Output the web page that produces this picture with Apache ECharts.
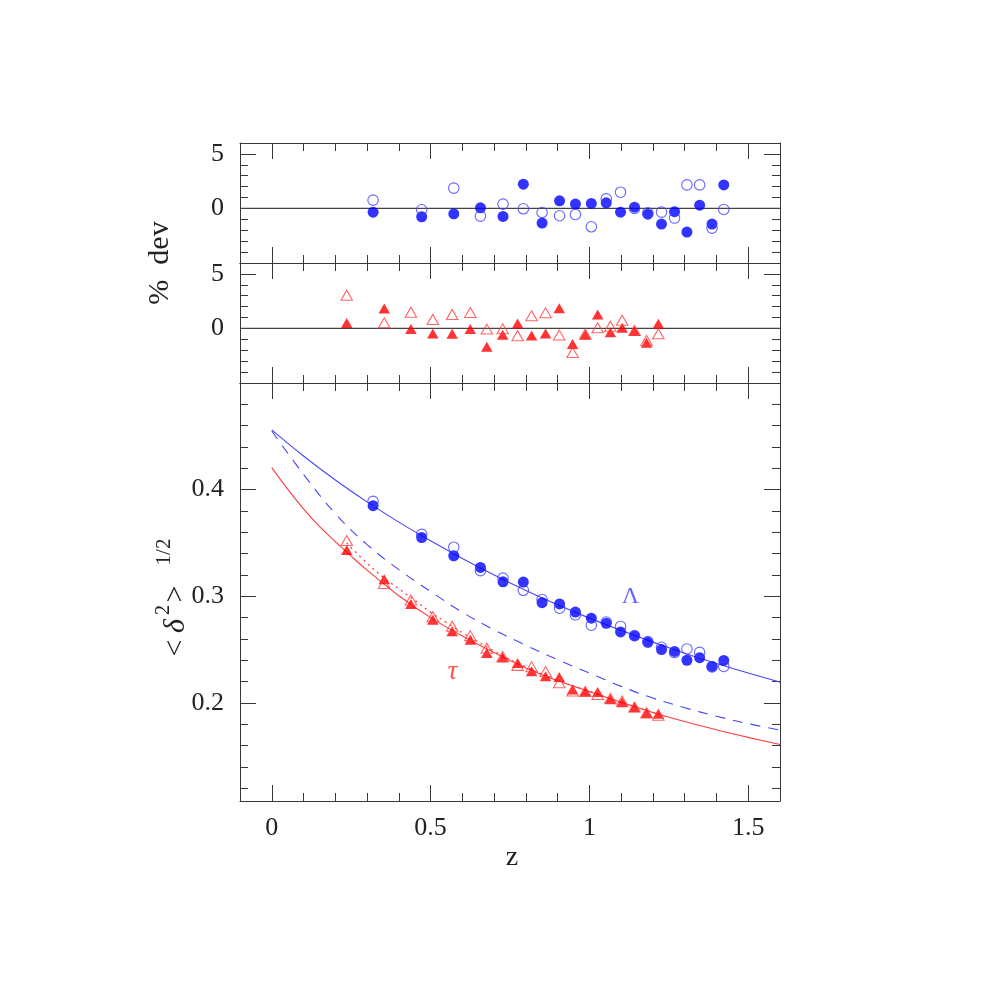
<!DOCTYPE html>
<html><head><meta charset="utf-8">
<script src="https://cdn.jsdelivr.net/npm/echarts@6/dist/echarts.min.js"></script>
<style>html,body{margin:0;padding:0;background:#fff}#c{width:981px;height:981px}</style>
</head><body><div id="c"></div>
<script>
// ---------------- data ----------------
const lamZ = [0.319,0.472,0.573,0.657,0.728,0.792,0.851,0.906,0.956,1.006,1.053,1.098,1.142,1.184,1.227,1.268,1.307,1.347,1.386,1.423];
const lamFilledDev = [-0.34,-0.76,-0.49,0.06,-0.73,2.23,-1.34,0.70,0.40,0.46,0.52,-0.34,0.12,-0.52,-1.43,-0.30,-2.16,0.30,-1.43,2.16];
const lamOpenDev = [0.76,-0.12,1.86,-0.70,0.40,-0.03,-0.37,-0.67,-0.55,-1.68,0.88,1.49,0.0,-0.4,-0.34,-0.88,2.16,2.16,-1.80,-0.09];
const lamFilled = [0.385,0.355,0.338,0.327,0.3135,0.3133,0.294,0.2928,0.2852,0.2795,0.2746,0.2666,0.2628,0.2568,0.2500,0.2483,0.2400,0.2424,0.2342,0.2398];
const lamOpen = [0.389,0.358,0.346,0.324,0.317,0.3056,0.2969,0.2888,0.2826,0.2728,0.2758,0.2717,0.2632,0.2575,0.2522,0.2472,0.2506,0.2474,0.2338,0.2342];

const tauZ = [0.236,0.354,0.438,0.507,0.568,0.625,0.677,0.727,0.774,0.818,0.862,0.905,0.947,0.987,1.026,1.066,1.103,1.142,1.180,1.217];
const tauFilledDev = [0.49,1.83,-0.06,-0.46,-0.49,-0.06,-1.68,-0.58,0.46,-0.64,-0.46,1.86,-1.43,-0.58,1.28,-0.34,0.06,-0.24,-1.31,0.43];
const tauOpenDev = [3.05,0.52,1.49,0.82,1.28,1.46,-0.06,-0.03,-0.67,1.16,1.43,-0.61,-2.20,-0.50,0.06,0.21,0.76,-0.18,-1.10,-0.49];
const tauFilled = [0.3435,0.3160,0.2928,0.2779,0.2671,0.2593,0.2468,0.2425,0.2375,0.2296,0.2250,0.2244,0.2126,0.2107,0.2103,0.2035,0.2006,0.1960,0.1904,0.1898];
const tauOpen = [0.3522,0.3120,0.2966,0.2808,0.2718,0.2631,0.2513,0.2435,0.2352,0.2340,0.2294,0.2188,0.2112,0.2108,0.2078,0.2043,0.2018,0.1961,0.1908,0.1885];

const fitZ = [0,0.1,0.2,0.3,0.4,0.5,0.6,0.7,0.8,0.9,1.0,1.1,1.2,1.3,1.4,1.5,1.6];
const lamFit = [0.456,0.4315,0.409,0.3885,0.3695,0.352,0.3355,0.32,0.3055,0.292,0.2795,0.268,0.257,0.2465,0.237,0.228,0.2195];
const lamLinear = [0.455,0.4143,0.3775,0.3485,0.325,0.3045,0.285,0.2685,0.254,0.2405,0.228,0.2155,0.2045,0.1955,0.1875,0.1805,0.1745];

const tauFitZ = [0,0.05,0.1,0.15,0.2,0.25,0.3,0.4,0.5,0.6,0.7,0.8,0.9,1.0,1.1,1.2,1.3,1.4,1.5,1.6];
const tauFit = [0.4207,0.4005,0.382,0.3655,0.3513,0.3376,0.3245,0.3005,0.28,0.2628,0.2472,0.2328,0.2208,0.2106,0.2005,0.191,0.1825,0.1748,0.1677,0.161];

const tauDotZ = [0.236,0.3,0.35,0.4,0.45,0.5,0.55,0.6,0.7,0.8,0.9,1.0,1.1,1.22];
const tauDot = [0.350,0.331,0.318,0.307,0.2962,0.285,0.2754,0.2658,0.2487,0.2336,0.2212,0.2108,0.2006,0.1893];

const zeroLineZ = [-0.1,1.6];
const xMajorTicks = [0,0.5,1,1.5];
const devMajorTicks = [0,5];
const sigmaMajorTicks = [0.2,0.3,0.4];
const sigmaMinorTicks = [0.12,0.14,0.16,0.18,0.2,0.22,0.24,0.26,0.28,0.3,0.32,0.34,0.36,0.38,0.4,0.42,0.44,0.46,0.48];
const lambdaTag = [1.129, 0.2992];
const tauTag = [0.569, 0.2294];

// ---------------- layout ----------------
const FONT = 'Liberation Serif';
const frameColor = '#383838';
const grids = [
  {left:240, top:143, width:540, height:120},
  {left:240, top:263, width:540, height:120},
  {left:240, top:383, width:540, height:418}
];
const yRanges = [[-5,6],[-5,6],[0.108,0.5]];
const labelStyle = {fontFamily:FONT, fontSize:26, color:'#222'};

const xAxis = [], yAxis = [];
grids.forEach((g, gi) => {
  ['bottom','top'].forEach(pos => {
    const base = {gridIndex:gi, type:'value', min:-0.1, max:1.6, position:pos, splitLine:{show:false}};
    xAxis.push(Object.assign({}, base, {
      interval:0.1,
      axisLine:{show:true, onZero:false, lineStyle:{color:frameColor, width:1}},
      axisTick:{show:true, inside:true, length:8, lineStyle:{color:frameColor, width:1}},
      axisLabel:{show:false}
    }));
    xAxis.push(Object.assign({}, base, {
      axisLine:{show:false, onZero:false},
      axisTick:{show:true, inside:true, length:16, customValues:xMajorTicks, lineStyle:{color:frameColor, width:1}},
      axisLabel:(gi===2 && pos==='bottom') ? Object.assign({show:true, margin:14, customValues:xMajorTicks}, labelStyle) : {show:false}
    }));
  });
  ['left','right'].forEach(pos => {
    const r = yRanges[gi];
    const base = {gridIndex:gi, type:'value', min:r[0], max:r[1], position:pos, splitLine:{show:false}};
    const minor = gi===2 ? {customValues:sigmaMinorTicks} : {};
    const major = gi===2 ? sigmaMajorTicks : devMajorTicks;
    yAxis.push(Object.assign({}, base, gi===2 ? {} : {interval:1}, {
      axisLine:{show:true, onZero:false, lineStyle:{color:frameColor, width:1}},
      axisTick:Object.assign({show:true, inside:true, length:8, lineStyle:{color:frameColor, width:1}}, minor),
      axisLabel:{show:false}
    }));
    yAxis.push(Object.assign({}, base, {
      axisLine:{show:false, onZero:false},
      axisTick:{show:true, inside:true, length:16, customValues:major, lineStyle:{color:frameColor, width:1}},
      axisLabel:(pos==='left') ? Object.assign({show:true, margin:16, customValues:major}, labelStyle) : {show:false}
    }));
  });
});

const pair = (xs, ys) => xs.map((x, i) => [x, ys[i]]);
const ax = gi => ({xAxisIndex:gi*4, yAxisIndex:gi*4});

const filledCircle = {symbol:'circle', symbolSize:11, itemStyle:{color:'#0000ff'}, z:4};
const openCircle = {symbol:'circle', symbolSize:10.5, itemStyle:{color:'rgba(255,255,255,0)', borderColor:'#4040ff', borderWidth:1.1}, z:5};
const filledTri = {symbol:'triangle', symbolSize:[11.5,10], itemStyle:{color:'#ff0000'}, z:4};
const openTri = {symbol:'triangle', symbolSize:[11.5,10], itemStyle:{color:'rgba(255,255,255,0)', borderColor:'#ff4040', borderWidth:1.1}, z:5};

const series = [
  Object.assign({type:'line', data:pair(zeroLineZ,[0,0]), showSymbol:false, lineStyle:{color:'#444', width:1.3}, z:2}, ax(0)),
  Object.assign({type:'scatter', data:pair(lamZ, lamFilledDev)}, filledCircle, ax(0)),
  Object.assign({type:'scatter', data:pair(lamZ, lamOpenDev)}, openCircle, ax(0)),
  Object.assign({type:'line', data:pair(zeroLineZ,[0,0]), showSymbol:false, lineStyle:{color:'#444', width:1.3}, z:2}, ax(1)),
  Object.assign({type:'scatter', data:pair(tauZ, tauFilledDev)}, filledTri, ax(1)),
  Object.assign({type:'scatter', data:pair(tauZ, tauOpenDev)}, openTri, ax(1)),
  Object.assign({type:'line', data:pair(fitZ, lamFit), smooth:0.4, showSymbol:false, lineStyle:{color:'#4646ff', width:1.1}, z:2}, ax(2)),
  Object.assign({type:'line', data:pair(fitZ, lamLinear), smooth:0.4, showSymbol:false, lineStyle:{color:'#4646ff', width:1.1, type:[10,8]}, z:2}, ax(2)),
  Object.assign({type:'line', data:pair(tauFitZ, tauFit), smooth:0.4, showSymbol:false, lineStyle:{color:'#ff3c3c', width:1.1}, z:2}, ax(2)),
  Object.assign({type:'line', data:pair(tauDotZ, tauDot), smooth:0.4, showSymbol:false, lineStyle:{color:'#ff3c3c', width:1.3, type:[2,4]}, z:2}, ax(2)),
  Object.assign({type:'scatter', data:pair(lamZ, lamFilled)}, filledCircle, ax(2)),
  Object.assign({type:'scatter', data:pair(lamZ, lamOpen)}, openCircle, ax(2)),
  Object.assign({type:'scatter', data:pair(tauZ, tauFilled)}, filledTri, ax(2)),
  Object.assign({type:'scatter', data:pair(tauZ, tauOpen)}, openTri, ax(2)),
  Object.assign({type:'scatter', data:[lambdaTag], symbolSize:0, z:6,
    label:{show:true, position:'inside', formatter:'Λ', fontFamily:FONT, fontSize:24, color:'#3c3cff'}}, ax(2)),
  Object.assign({type:'scatter', data:[tauTag], symbolSize:0, z:6,
    label:{show:true, position:'inside', formatter:'τ', fontFamily:FONT, fontStyle:'italic', fontSize:28, color:'#ff2a2a'}}, ax(2))
];

function rotText(text, x, y, size, italic) {
  return {type:'text', x:x, y:y, rotation:Math.PI/2, silent:true,
    style:{text:text, font:(italic ? 'italic ' : '') + size + 'px "Liberation Serif"', fill:'#222', align:'center', verticalAlign:'middle'}};
}

const chart = echarts.init(document.getElementById('c'), null, {renderer:'canvas'});
chart.setOption({
  animation:false,
  backgroundColor:'#fff',
  grid:grids,
  xAxis:xAxis,
  yAxis:yAxis,
  series:series,
  graphic:[
    rotText('%  dev', 160, 263, 30, false),
    rotText('<', 176, 648, 30, false),
    rotText('δ', 176, 626, 30, true),
    rotText('2', 164, 610, 20, false),
    rotText('>', 176, 594, 30, false),
    rotText('1/2', 164, 552, 21, false),
    {type:'text', x:512, y:858, silent:true,
      style:{text:'z', font:'28px "Liberation Serif"', fill:'#222', align:'center', verticalAlign:'middle'}}
  ]
});
</script>
</body></html>
